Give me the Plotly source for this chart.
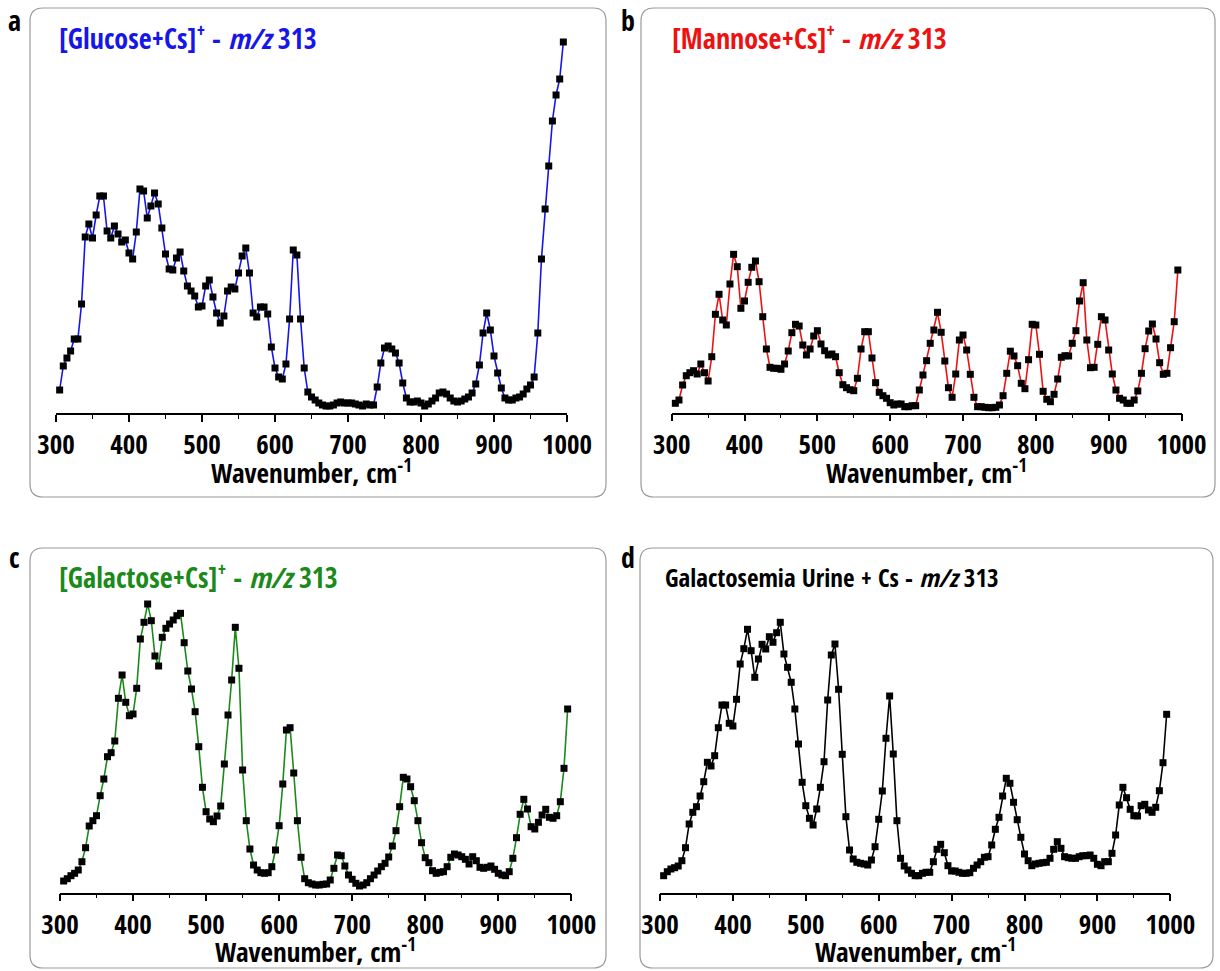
import plotly.graph_objects as go

W, H = 1220, 971
FONT = "Open Sans Condensed, Roboto Condensed, DejaVu Sans Condensed, sans-serif"

wavenumber = list(range(305, 1000, 5))

glucose = [23, 47, 55, 62, 74, 74, 109, 176, 189, 175,
           198, 217, 217, 182, 175, 187, 179, 171, 173, 160,
           154, 181, 224, 222, 195, 207, 220, 209, 185, 159,
           144, 143, 155, 161, 142, 127, 122, 117, 106, 107,
           127, 133, 116, 100, 90, 97, 122, 126, 124, 140,
           157, 165, 140, 100, 96, 106, 106, 99, 66, 45,
           36, 34, 49, 94, 163, 158, 94, 45, 21, 16,
           13, 10, 8, 7, 7, 8, 10, 11, 10, 10,
           10, 9, 8, 7, 9, 8, 8, 26, 50, 65,
           67, 64, 60, 50, 30, 15, 11, 11, 12, 10,
           7, 9, 12, 15, 20, 21, 19, 15, 12, 11,
           12, 14, 16, 20, 29, 48, 80, 100, 83, 57,
           40, 25, 15, 13, 13, 15, 16, 19, 24, 28,
           36, 80, 154, 204, 247, 292, 318, 334, 371]

mannose = [9.4, 12.7, 27.7, 37, 40, 42, 38.7, 48.7, 40, 31.7,
           56, 98.4, 118.4, 92.7, 87.7, 128.7, 158.4, 146, 104.4, 111.7,
           130.4, 145.4, 151.7, 131, 96, 63.7, 45.4, 44.4, 44.4, 43.4,
           48.7, 61.7, 80, 88.4, 86.7, 67.7, 57.7, 63.7, 76.7, 82,
           68.7, 62, 57.7, 58.7, 56, 40, 28, 25, 23, 22,
           34.4, 63.7, 81, 81, 54.7, 30, 20.4, 17, 14.4, 10,
           7.7, 8.7, 8.7, 6, 6, 7, 7, 22.7, 37.7, 52,
           69.4, 82.7, 100.4, 80.4, 51.7, 25, 15.4, 38.7, 72.7, 77.7,
           62.7, 38.4, 15.4, 6, 6, 5.4, 5, 5, 5.4, 7.7,
           17, 39.4, 61.5, 56.7, 47, 29.4, 24, 53, 88.4, 87.7,
           58.4, 21.4, 13.4, 11, 18.4, 33.7, 55.4, 57, 56.7, 69.4,
           82, 111.7, 130, 72.7, 45, 45.4, 68.4, 96, 92.7, 62.7,
           38.7, 22.7, 14.4, 12.7, 9.4, 9.4, 12.7, 21.7, 39.4, 64,
           81.7, 88.7, 73.7, 50, 38.4, 39.4, 65, 91, 142.7]

galactose = [11.7, 14, 17, 19.4, 22.7, 31, 45, 66.7, 72, 77,
             97, 113.7, 136, 140, 151.7, 194.4, 217.7, 190.4, 177, 178.7,
             204.4, 253.7, 270.4, 288.7, 272, 236.7, 226.7, 255.4, 264.4, 268.7,
             272.7, 277, 279.4, 250, 221.7, 203.7, 181, 146, 105.4, 81,
             73.7, 71, 76.7, 86.7, 128.7, 177.7, 212.7, 265.4, 224.4, 122.7,
             72, 43.7, 27.7, 22.7, 20, 19.4, 20, 26, 42.7, 67,
             108.7, 162.7, 165, 119.7, 72, 35.4, 14, 10, 8.7, 7.7,
             7.7, 8.4, 8.7, 12.7, 24.4, 37.7, 37, 26.7, 17.7, 13.4,
             9.4, 6.7, 7.7, 10, 14, 17.7, 21.7, 26, 29.4, 35.7,
             46.7, 62, 86, 115.4, 113.7, 106, 92, 72, 50, 35,
             30, 22, 19.4, 20.4, 21, 26, 35.4, 38.7, 37.7, 36,
             33.4, 28.7, 36, 32, 25.4, 24.4, 25.4, 26.7, 23.4, 19.4,
             17.7, 17, 21, 34.4, 55, 78.4, 93.4, 83.7, 66, 63.7,
             70.4, 77.7, 83.4, 75.4, 74.4, 77, 91, 124.4, 183.7]

urine = [17, 21, 23.7, 25, 26.7, 32, 45, 68.7, 80.4, 86,
         96.7, 111, 130.4, 126.7, 137, 165, 187.7, 187.7, 169.4, 166.7,
         193.4, 228.7, 244, 263.4, 242, 215.4, 233.7, 248.4, 243.7, 256,
         250.4, 260, 270.4, 238.7, 225.4, 210.4, 183.7, 148.7, 110.4, 87,
         74.4, 67.7, 83.7, 105.4, 131, 192.7, 237.7, 248.7, 203.4, 138.4,
         76, 42.7, 33.7, 30.4, 29.4, 28.7, 27.7, 32.7, 46, 73.4,
         101.7, 154.4, 196.7, 138.7, 72, 34.4, 26.7, 22.7, 19.4, 17,
         17, 19.4, 20.4, 20.4, 31, 43.4, 48.4, 40, 27, 21.7,
         21.7, 20.4, 19.4, 19.4, 20, 24.4, 27.7, 31, 35.4, 36,
         47.7, 63.4, 75.4, 96.7, 114.4, 109.4, 90.4, 73, 55.4, 38.7,
         32, 27, 28.7, 29.4, 30, 30.4, 34.4, 43.4, 51, 44.4,
         36, 35, 34.4, 34.4, 36, 37, 37, 37.7, 34.4, 28.4,
         27, 31, 31, 39.4, 57.7, 87.7, 105.4, 95, 83.4, 77,
         76.7, 87, 88.4, 82.7, 80.4, 85.4, 102, 130, 178.4]

tick_vals = [300, 400, 500, 600, 700, 800, 900, 1000]
tick_text = ["300", "400", "500", "600", "700", "800", "900", "1000"]
minor_vals = [350, 450, 550, 650, 750, 850, 950]

panels = [
    dict(y=glucose, line="#1616e8", title_color="#1616e8", letter="a",
         title="[Glucose+Cs]<sup>+</sup> - <i>m/z</i> 313", title_size=28,
         xpx=(56, 567), ypx=(413, 40), frame=(30, 8, 606, 497),
         letter_pos=(14, 20), title_pos=(57, 37), xt_y=471),
    dict(y=mannose, line="#ee1111", title_color="#ee1111", letter="b",
         title="[Mannose+Cs]<sup>+</sup> - <i>m/z</i> 313", title_size=28,
         xpx=(671.7, 1181.5), ypx=(412.7, 40), frame=(641, 8, 1215, 497),
         letter_pos=(628, 20), title_pos=(670, 37), xt_y=471),
    dict(y=galactose, line="#1a8a1a", title_color="#1a8a1a", letter="c",
         title="[Galactose+Cs]<sup>+</sup> - <i>m/z</i> 313", title_size=28,
         xpx=(60, 571.3), ypx=(892.7, 590), frame=(30, 548, 606, 968),
         letter_pos=(14, 557), title_pos=(57, 575), xt_y=950),
    dict(y=urine, line="#000000", title_color="#000000", letter="d",
         title="Galactosemia Urine + Cs - <i>m/z</i> 313", title_size=25,
         xpx=(660, 1170.3), ypx=(892.7, 610), frame=(640, 548, 1213, 968),
         letter_pos=(628, 557), title_pos=(663, 577), xt_y=950),
]

fig = go.Figure()
layout = dict(width=W, height=H, template="none",
              margin=dict(l=0, r=0, t=0, b=0, pad=0, autoexpand=False),
              paper_bgcolor="white", plot_bgcolor="rgba(0,0,0,0)", showlegend=False,
              font=dict(family=FONT, color="black"))
shapes, annotations = [], []


def fx(x):
    return x / W


def fy(y):
    return 1 - y / H


for i, p in enumerate(panels, start=1):
    xa = "x" if i == 1 else f"x{i}"
    ya = "y" if i == 1 else f"y{i}"
    fig.add_trace(go.Scatter(
        x=wavenumber, y=p["y"], mode="lines+markers", xaxis=xa, yaxis=ya,
        line=dict(color=p["line"], width=1.6),
        marker=dict(symbol="square", size=7, color="black"),
        cliponaxis=False, hoverinfo="x+y"))
    x0, x1 = p["xpx"]
    yb, yt = p["ypx"]
    layout["xaxis" if i == 1 else f"xaxis{i}"] = dict(
        domain=[fx(x0), fx(x1)], range=[300, 1000], anchor=ya, automargin=False,
        showline=True, linecolor="black", linewidth=1.5, mirror=False,
        showgrid=False, zeroline=False,
        ticks="outside", ticklen=7, tickwidth=1.5, tickcolor="black",
        tickvals=tick_vals, ticktext=tick_text,
        tickfont=dict(family=FONT, size=27, color="black", weight="bold"),
        minor=dict(ticks="outside", ticklen=4, tickwidth=1.2, tickcolor="black",
                   tickvals=minor_vals, showgrid=False),
    )
    layout["yaxis" if i == 1 else f"yaxis{i}"] = dict(
        domain=[fy(yb), fy(yt)], range=[0, yb - yt], anchor=xa, automargin=False,
        visible=False, showgrid=False, zeroline=False)
    # rounded frame around each panel
    fl, ft, fr, fb = p["frame"]
    r = 13
    path = (f"M {fx(fl + r)},{fy(ft)} L {fx(fr - r)},{fy(ft)} "
            f"Q {fx(fr)},{fy(ft)} {fx(fr)},{fy(ft + r)} "
            f"L {fx(fr)},{fy(fb - r)} Q {fx(fr)},{fy(fb)} {fx(fr - r)},{fy(fb)} "
            f"L {fx(fl + r)},{fy(fb)} Q {fx(fl)},{fy(fb)} {fx(fl)},{fy(fb - r)} "
            f"L {fx(fl)},{fy(ft + r)} Q {fx(fl)},{fy(ft)} {fx(fl + r)},{fy(ft)} Z")
    shapes.append(dict(type="path", xref="paper", yref="paper", path=path,
                       line=dict(color="#9a9a9a", width=1.2), layer="below"))
    lx, ly = p["letter_pos"]
    annotations.append(dict(xref="paper", yref="paper", x=fx(lx), y=fy(ly),
                            text=f"<b>{p['letter']}</b>", showarrow=False,
                            xanchor="center", yanchor="middle",
                            font=dict(family=FONT, size=28, color="black")))
    tx, ty = p["title_pos"]
    annotations.append(dict(xref="paper", yref="paper", x=fx(tx), y=fy(ty),
                            text=f"<b>{p['title']}</b>", showarrow=False,
                            xanchor="left", yanchor="middle",
                            font=dict(family=FONT, size=p["title_size"],
                                      color=p["title_color"])))
    annotations.append(dict(xref="paper", yref="paper", x=fx((x0 + x1) / 2),
                            y=fy(p["xt_y"]),
                            text="<b>Wavenumber, cm<sup>-1</sup></b>", showarrow=False,
                            xanchor="center", yanchor="middle",
                            font=dict(family=FONT, size=27, color="black")))

layout["shapes"] = shapes
layout["annotations"] = annotations
fig.update_layout(**layout)
fig.write_html("out.html")
